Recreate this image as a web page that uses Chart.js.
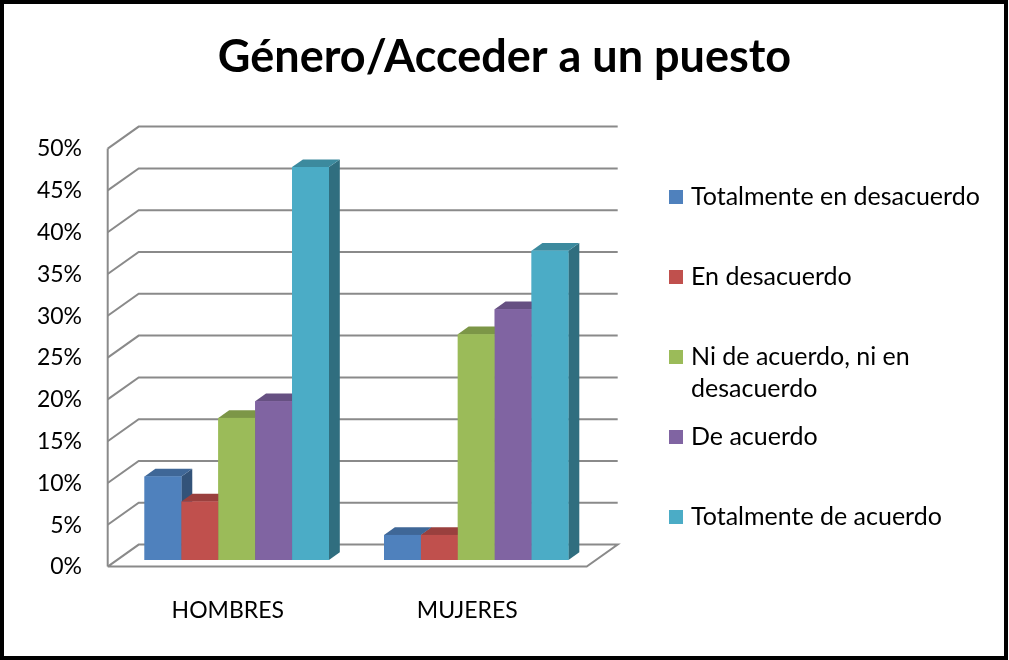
<!DOCTYPE html>
<html>
<head>
<meta charset="utf-8">
<script src="https://cdn.jsdelivr.net/npm/chart.js@4.4.1/dist/chart.umd.min.js"></script>
<style>
  html, body { margin: 0; padding: 0; background: #fff; }
  canvas { display: block; }
</style>
</head>
<body>
<canvas id="c" width="1009" height="660"></canvas>
<script>
// ---- data ----
const categories = ['HOMBRES', 'MUJERES'];
const seriesNames = ['Totalmente en desacuerdo', 'En desacuerdo', 'Ni de acuerdo, ni en desacuerdo', 'De acuerdo', 'Totalmente de acuerdo'];
const totalmenteEnDesacuerdo = [10, 3];
const enDesacuerdo = [7, 3];
const niDeAcuerdoNiEnDesacuerdo = [17, 27];
const deAcuerdo = [19, 30];
const totalmenteDeAcuerdo = [47, 37];
const yMin = 0, yMax = 50, yStep = 5;
const chartTitle = 'Género/Acceder a un puesto';

// ---- styles ----
const palette = ['#4F81BD', '#C0504D', '#9BBB59', '#8064A2', '#4BACC6'];
const FONT = 'Lato';
const DEPTH = { x: 31, y: -22 };   // full depth of 3D box
const BAR_FRONT = 0.3;            // bar front plane at this depth fraction
const BAR_DEPTH = 0.35;           // bar thickness as depth fraction
const GRID_COLOR = '#8a8a8a';

function shade(hex, f) {
  const n = parseInt(hex.slice(1), 16);
  const r = Math.round(((n >> 16) & 255) * f), g = Math.round(((n >> 8) & 255) * f), b = Math.round((n & 255) * f);
  return `rgb(${r},${g},${b})`;
}

const seriesValues = [totalmenteEnDesacuerdo, enDesacuerdo, niDeAcuerdoNiEnDesacuerdo, deAcuerdo, totalmenteDeAcuerdo];

const frameAndGrid = {
  id: 'frameAndGrid',
  beforeDraw(chart) {
    const ctx = chart.ctx;
    ctx.save();
    ctx.fillStyle = '#fff';
    ctx.fillRect(0, 0, chart.width, chart.height);
    ctx.strokeStyle = '#000';
    ctx.lineWidth = 4;
    ctx.strokeRect(2, 2, chart.width - 5, chart.height - 4);
    ctx.restore();
  },
  beforeDatasetsDraw(chart) {
    const ctx = chart.ctx;
    const ys = chart.scales.y;
    const { left, right } = chart.chartArea;
    const fx = -BAR_FRONT * DEPTH.x, fy = -BAR_FRONT * DEPTH.y;
    const bx = (1 - BAR_FRONT) * DEPTH.x, by = (1 - BAR_FRONT) * DEPTH.y;
    ctx.save();
    ctx.strokeStyle = GRID_COLOR;
    ctx.lineWidth = 2;
    ctx.lineJoin = 'miter';
    ys.ticks.forEach(t => {
      const py = ys.getPixelForValue(t.value);
      ctx.beginPath();
      ctx.moveTo(left + fx, py + fy);
      ctx.lineTo(left + bx, py + by);
      ctx.lineTo(right + bx, py + by);
      if (t.value === yMin) {
        ctx.lineTo(right + fx, py + fy);
        ctx.lineTo(left + fx, py + fy);
      }
      ctx.stroke();
    });
    const top = ys.getPixelForValue(yMax), bot = ys.getPixelForValue(yMin);
    ctx.beginPath();
    ctx.moveTo(left + fx, top + fy);
    ctx.lineTo(left + fx, bot + fy);
    ctx.stroke();
    ctx.restore();
  },
  afterDatasetsDraw(chart) {
    const ctx = chart.ctx;
    const metas = chart.getSortedVisibleDatasetMetas();
    const dx = BAR_DEPTH * DEPTH.x, dy = BAR_DEPTH * DEPTH.y;
    ctx.save();
    for (let i = 0; i < categories.length; i++) {
      metas.forEach((meta, j) => {
        const el = meta.data[i];
        const { x, y, base, width } = el.getProps(['x', 'y', 'base', 'width'], true);
        const l = x - width / 2, r = x + width / 2;
        const col = palette[j];
        ctx.fillStyle = shade(col, 0.64);
        ctx.beginPath();
        ctx.moveTo(r, y); ctx.lineTo(r + dx, y + dy); ctx.lineTo(r + dx, base + dy); ctx.lineTo(r, base);
        ctx.closePath(); ctx.fill();
        ctx.fillStyle = shade(col, 0.8);
        ctx.beginPath();
        ctx.moveTo(l, y); ctx.lineTo(l + dx, y + dy); ctx.lineTo(r + dx, y + dy); ctx.lineTo(r, y);
        ctx.closePath(); ctx.fill();
        ctx.fillStyle = col;
        ctx.fillRect(l, y, width, base - y);
      });
    }
    ctx.restore();
  },
  afterDraw(chart) {
    const ctx = chart.ctx;
    ctx.save();
    ctx.font = `25px ${FONT}`;
    ctx.textBaseline = 'middle';
    ctx.textAlign = 'left';
    const textX = 691, boxX = 669, box = 14, maxW = 305;
    chart.data.datasets.forEach((ds, i) => {
      const cy = 197 + 80 * i;
      ctx.fillStyle = palette[i];
      ctx.fillRect(boxX, cy - box / 2, box, box);
      const words = ds.label.split(' ');
      const lines = [];
      let cur = '';
      words.forEach(w => {
        const test = cur ? cur + ' ' + w : w;
        if (ctx.measureText(test).width > maxW && cur) { lines.push(cur); cur = w; } else { cur = test; }
      });
      if (cur) lines.push(cur);
      ctx.fillStyle = '#000';
      lines.forEach((ln, k) => ctx.fillText(ln, textX, cy + k * 32));
    });
    ctx.restore();
  }
};

new Chart(document.getElementById('c'), {
  type: 'bar',
  data: {
    labels: categories,
    datasets: seriesNames.map((name, i) => ({
      label: name,
      data: seriesValues[i],
      backgroundColor: palette[i],
      borderWidth: 0,
      categoryPercentage: 0.77,
      barPercentage: 1.0
    }))
  },
  options: {
    responsive: false,
    animation: false,
    devicePixelRatio: 1,
    layout: { padding: 0 },
    plugins: {
      legend: { display: false },
      tooltip: { enabled: false },
      title: {
        display: true,
        text: chartTitle,
        color: '#000',
        font: { family: FONT, size: 45, weight: 'bold' },
        padding: { top: 30, bottom: 58 }
      }
    },
    scales: {
      x: {
        grid: { display: false, drawTicks: false },
        border: { display: false },
        ticks: { color: '#000', font: { family: FONT, size: 23 }, padding: 37, labelOffset: -9 },
        afterFit(scale) { scale.height = 100; }
      },
      y: {
        min: yMin, max: yMax,
        grid: { display: false, drawTicks: false },
        border: { display: false },
        ticks: {
          stepSize: yStep, color: '#000', font: { family: FONT, size: 23 }, padding: 35, labelOffset: 7,
          callback: v => v + '%'
        },
        afterFit(scale) { scale.width = 117; }
      },
      legendSpace: {
        type: 'linear',
        position: 'right',
        display: true,
        grid: { display: false, drawTicks: false },
        border: { display: false },
        ticks: { display: false },
        afterFit(scale) { scale.width = 413; }
      }
    }
  },
  plugins: [frameAndGrid]
});
</script>
</body>
</html>
